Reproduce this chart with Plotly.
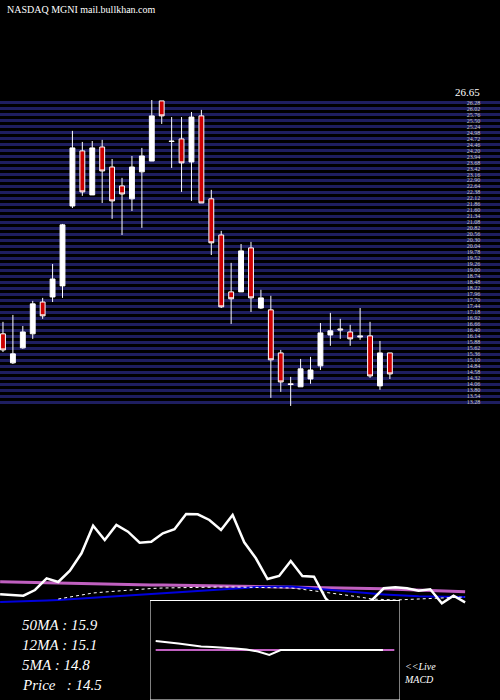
import plotly.graph_objects as go

opens  = [16.24,14.98,15.63,16.24,17.62,17.84,18.32,21.79,24.18,22.27,24.35,23.48,22.66,22.10,23.27,23.74,26.35,24.61,24.70,23.70,
          25.70,22.10,20.53,18.06,18.06,19.97,17.36,17.28,15.41,14.07,13.94,14.28,14.85,16.19,16.45,16.32,16.15,16.15,13.98,15.41]
highs  = [16.76,17.06,16.58,17.67,17.80,19.27,21.01,25.05,24.57,24.61,24.66,23.83,23.01,23.96,24.31,26.39,26.35,25.65,25.65,25.87,
          25.96,22.49,20.71,19.32,20.14,20.23,18.15,17.89,15.54,14.37,15.15,15.24,16.71,17.15,16.89,16.63,17.36,16.76,15.93,15.41]
lows   = [15.45,14.93,15.59,16.02,16.89,17.62,17.80,21.70,22.23,22.27,21.92,21.23,20.53,21.57,20.84,23.74,25.35,23.44,22.40,22.01,
          21.92,19.66,17.36,16.67,18.06,17.19,17.32,13.46,13.72,13.11,13.94,14.07,14.67,15.72,16.02,15.72,15.98,14.33,13.81,14.28]
closes = [15.54,15.37,16.32,17.54,17.02,18.62,20.97,24.31,22.40,24.31,23.31,22.01,22.31,23.48,23.96,25.70,25.70,24.59,23.66,25.65,
          21.92,20.19,17.41,17.76,19.84,17.80,17.80,15.11,14.15,14.04,14.72,14.67,16.28,16.37,16.41,16.02,16.11,14.41,15.41,14.50]

ind_white = [105.7,105,104.3,110,121.7,118,129.3,146.7,174.3,160,175,168.3,157.3,158.3,166.7,170.7,186,185.7,180,170,
             185,157.7,141.7,121,124,139,124,123.3,101.7,90,88,95,100,111.7,112.7,111.7,109.3,110.7,96.7,104.3,97.7]
ind_purple = [118.3,118,117.7,117.4,117.1,116.8,116.5,116.2,116,115.8,115.5,115.4,115.2,115.1,115,114.8,114.6,114.5,114.3,114.1,
              114,113.8,113.7,113.5,113.4,113.2,113,112.9,112.7,112.6,112.5,112,111.6,111.2,110.8,110.4,110,109.6,109.2,108.8,108.3]
ind_blue = [98,98.2,98.5,98.8,99.4,100,100.8,101.6,102.4,103.2,104,104.8,105.6,106.4,107.2,108,108.6,109.2,109.8,110.4,
            111,112,113,113.3,113.4,113.5,112.4,111.3,110.2,109.1,108,107.2,106.4,105.6,104.8,104,103.8,103.6,103.4,103.2,103]
ind_dot = [None,None,None,None,None,101,103,105,107,108,109,110,111,111.5,112,112.3,112.6,112.8,113,113,
           113,112.8,112.6,112.4,112.2,112,110.7,109.3,108,106.3,104.5,102.8,101,100.5,100,100.5,101,101.5,102,102.5,103]
macd_line = [59,58,56.5,55,53.5,53,52.5,51.5,50.5,48.5,45,50,50,50,50,50,50,50,50,50,50]
macd_signal = [50]*22
legend_lines = ["50MA : 15.9", "12MA : 15.1", "5MA : 14.8", "Price   : 14.5"]

x = list(range(len(opens)))
fig = go.Figure()
fig.add_trace(go.Candlestick(x=x, open=opens, high=highs, low=lows, close=closes,
    increasing=dict(fillcolor="white", line=dict(color="white", width=1)),
    decreasing=dict(fillcolor="#cc0000", line=dict(color="white", width=1)),
    whiskerwidth=0, showlegend=False, xaxis="x", yaxis="y"))

xi = list(range(len(ind_white)))
fig.add_trace(go.Scatter(x=xi, y=ind_purple, mode="lines", line=dict(color="#c060c0", width=3), xaxis="x2", yaxis="y2"))
fig.add_trace(go.Scatter(x=xi, y=ind_blue, mode="lines", line=dict(color="#0000dd", width=2), xaxis="x2", yaxis="y2"))
fig.add_trace(go.Scatter(x=xi, y=ind_dot, mode="lines", line=dict(color="white", width=1, dash="dot"), xaxis="x2", yaxis="y2"))
fig.add_trace(go.Scatter(x=xi, y=ind_white, mode="lines", line=dict(color="white", width=2.5), xaxis="x2", yaxis="y2"))

fig.add_trace(go.Scatter(x=[-0.5,21.5,21.5,-0.5,-0.5], y=[0,0,99.5,99.5,0], mode="lines", fill="toself",
    fillcolor="black", line=dict(color="white", width=1), xaxis="x3", yaxis="y3"))
fig.add_trace(go.Scatter(x=list(range(len(macd_signal))), y=macd_signal, mode="lines",
    line=dict(color="#c060c0", width=2), xaxis="x3", yaxis="y3"))
fig.add_trace(go.Scatter(x=list(range(len(macd_line))), y=macd_line, mode="lines",
    line=dict(color="white", width=2), xaxis="x3", yaxis="y3"))

annotations = [dict(text="NASDAQ MGNI mail.bullkhan.com", x=0.01, y=1-10/700, xref="paper", yref="paper",
                    xanchor="left", yanchor="middle", showarrow=False,
                    font=dict(family="Liberation Serif", size=10, color="white"))]
for k, t in enumerate(legend_lines):
    annotations.append(dict(text="<i>" + t + "</i>", x=20/500, y=1-(625+20*k)/700, xref="paper", yref="paper",
                            xanchor="left", yanchor="middle", showarrow=False,
                            font=dict(family="Liberation Serif", size=15, color="white")))
annotations.append(dict(text="<i>&lt;&lt;Live<br>MACD</i>", x=402/500, y=1-673/700, xref="paper", yref="paper",
                        xanchor="left", yanchor="middle", showarrow=False, align="left",
                        font=dict(family="Liberation Serif", size=10, color="white")))
annotations.append(dict(text="26.65", x=482/500, y=1-92/700, xref="paper", yref="paper",
                        xanchor="right", yanchor="middle", showarrow=False,
                        font=dict(family="Liberation Serif", size=11, color="white")))

fig.update_layout(
    width=500, height=700, margin=dict(l=0, r=0, t=0, b=0),
    paper_bgcolor="black", plot_bgcolor="black", showlegend=False,
    annotations=annotations,
    xaxis=dict(domain=[0, 1], range=[-0.3, 50.1], showgrid=False, zeroline=False, showticklabels=False,
               rangeslider=dict(visible=False), anchor="y"),
    yaxis=dict(domain=[1-408/700, 1-97/700], range=[13.02, 26.52], tick0=13.02, dtick=0.26,
               showgrid=True, gridcolor="#1e1e60", gridwidth=3, zeroline=False, side="right",
               ticklabelposition="inside", ticklabelstandoff=18,
               tickfont=dict(size=6, color="#cccccc", family="Liberation Serif"),
               tickformat=".2f", anchor="x", showline=True, linecolor="white", linewidth=1),
    xaxis2=dict(domain=[0, 1], range=[-0.01, 43.0], visible=False, anchor="y2"),
    yaxis2=dict(domain=[0, 1-500/700], range=[0, 200], visible=False, anchor="x2"),
    xaxis3=dict(domain=[150/500, 400/500], range=[-0.5, 21.5], visible=False, anchor="y3"),
    yaxis3=dict(domain=[0, 100/700], range=[0, 100], visible=False, anchor="x3"),
)
fig.write_html("out.html", config={"displayModeBar": False},
               post_script="document.body.style.margin='0';document.body.style.overflow='hidden';")
